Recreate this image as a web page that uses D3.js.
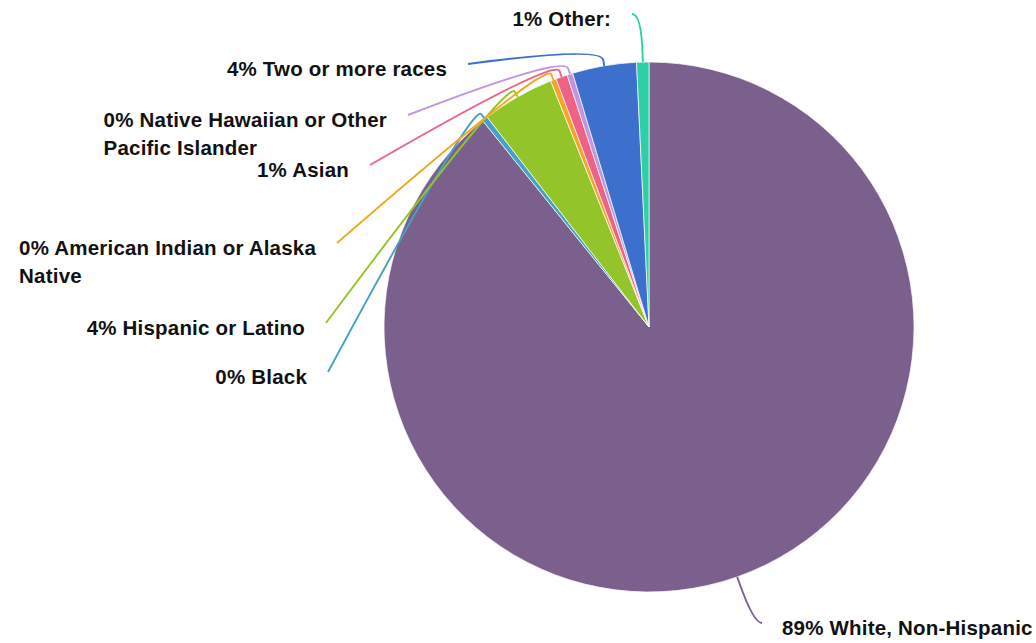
<!DOCTYPE html>
<html>
<head>
<meta charset="utf-8">
<script src="https://cdn.jsdelivr.net/npm/d3@7/dist/d3.min.js"></script>
<style>
  html, body { margin: 0; padding: 0; background: #fff; }
  svg text { font-family: "Liberation Sans", Arial, Helvetica, sans-serif; font-weight: bold; fill: #111; letter-spacing: 0.2px; }
</style>
</head>
<body>
<svg id="chart" width="1036" height="643"></svg>
<script>
// data
let categories = ['White, Non-Hispanic', 'Black', 'Hispanic or Latino', 'American Indian or Alaska Native',
  'Asian', 'Native Hawaiian or Other Pacific Islander', 'Two or more races', 'Other:']
let values = [89.2, 0.35, 4.4, 0.35, 0.7, 0.35, 3.9, 0.75]
let colors = ['#7b608e', '#44a3c5', '#93c52a', '#f6a523', '#ef6286', '#c395de', '#3d6fcd', '#2dcfa4']

// where each leader line ends (label anchor)
let labelEnds = [[762, 623], [328, 372], [326, 323], [337, 243], [370, 165], [408, 115], [468, 64], [632, 14]]

let cx = 649
let cy = 327
let r = 265
let fontSize = 20.5
let lineH = 28
let wrapWidth = 315

let svg = d3.select('#chart')
let g = svg.append('g').attr('transform', `translate(${cx},${cy})`)

let pie = d3.pie().sort(null).value(d => d.value)
let data = categories.map((name, i) => ({ name, value: values[i], color: colors[i], end: labelEnds[i] }))
let arcs = pie(data)
let arc = d3.arc().innerRadius(0).outerRadius(r)

g.selectAll('path.slice')
  .data(arcs)
  .enter()
  .append('path')
  .attr('class', 'slice')
  .attr('d', arc)
  .attr('fill', d => d.data.color)
  .attr('stroke', '#fff')
  .attr('stroke-width', 0.7)

let pt = function (a, rad) {
  return [rad * Math.sin(a), -rad * Math.cos(a)]
}

// leader lines
g.selectAll('path.leader')
  .data(arcs)
  .enter()
  .append('path')
  .attr('class', 'leader')
  .attr('fill', 'none')
  .attr('stroke', d => d.data.color)
  .attr('stroke-width', 1.9)
  .attr('d', function (d) {
    let a = (d.startAngle + d.endAngle) / 2
    let end = [d.data.end[0] - cx, d.data.end[1] - cy]
    let A = pt(a, r)
    let B = pt(a, r + 6)
    // control point: where the radial line reaches the label's height, else a short hook
    let dy = -Math.cos(a)
    let dist = dy !== 0 ? (end[1] - A[1]) / dy : -1
    let ctrl = dist > 16 ? pt(a, r + dist) : pt(a, r + 20)
    return `M${A}L${B}Q${ctrl} ${end}`
  })

// labels
let labels = svg.selectAll('text.label')
  .data(arcs)
  .enter()
  .append('text')
  .attr('class', 'label')
  .style('font-size', fontSize + 'px')

labels.each(function (d) {
  let t = d3.select(this)
  let words = (Math.round(d.data.value) + '% ' + d.data.name).split(' ')
  let lines = []
  let cur = ''
  words.forEach(function (w) {
    let test = cur ? cur + ' ' + w : w
    t.text(test)
    if (cur && textLen(t) > wrapWidth) {
      lines.push(cur)
      cur = w
    } else {
      cur = test
    }
  })
  lines.push(cur)
  t.text(null)
  let tspans = lines.map((l, i) => t.append('tspan').attr('dy', i === 0 ? 0 : lineH).text(l))
  let maxW = d3.max(tspans, s => s.node().getComputedTextLength())
  let a = (d.startAngle + d.endAngle) / 2
  let right = Math.sin(a) > 0
  let x = right ? d.data.end[0] + 20 : d.data.end[0] - 21 - maxW
  let y = d.data.end[1] + 12
  t.attr('y', y)
  tspans.forEach(s => s.attr('x', x))
})

function textLen(t) {
  return t.node().getComputedTextLength()
}
</script>
</body>
</html>
